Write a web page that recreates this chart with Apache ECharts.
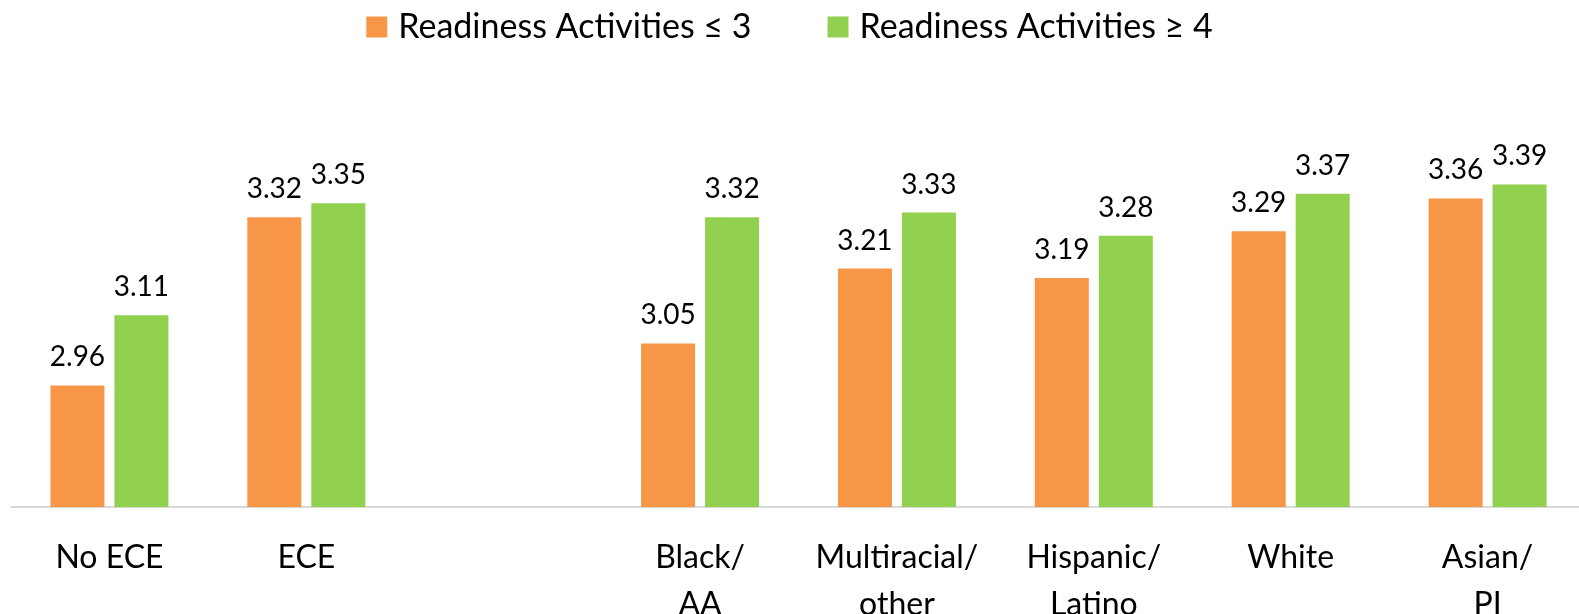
<!DOCTYPE html>
<html>
<head>
<meta charset="utf-8">
<script src="https://cdn.jsdelivr.net/npm/echarts@6/dist/echarts.min.js"></script>
<style>
  html, body { margin: 0; padding: 0; background: #ffffff; overflow: hidden; }
  #chart { width: 1579px; height: 614px; }
</style>
</head>
<body>
<div id="chart"></div>
<script>
// Groups on the x axis; the blank slot separates ECE status from race/ethnicity
const categories = ['No ECE', 'ECE', '', 'Black/\nAA', 'Multiracial/\nother', 'Hispanic/\nLatino', 'White', 'Asian/\nPI'];
const seriesNames = ['Readiness Activities \u2264 3', 'Readiness Activities \u2265 4'];
const lowActivities = [2.96, 3.32, null, 3.05, 3.21, 3.19, 3.29, 3.36];
const highActivities = [3.11, 3.35, null, 3.32, 3.33, 3.28, 3.37, 3.39];

const FONT = 'Lato';
const ORANGE = '#F79646';
const GREEN = '#92D050';

const chart = echarts.init(document.getElementById('chart'), null, { renderer: 'canvas' });

const valueLabel = {
  show: true,
  position: 'top',
  distance: 14,
  color: '#000000',
  fontFamily: FONT,
  fontSize: 28,
  formatter: p => (p.value == null ? '' : Number(p.value).toFixed(2))
};

chart.setOption({
  animation: false,
  backgroundColor: '#ffffff',
  legend: {
    top: 5,
    left: 'center',
    itemWidth: 21,
    itemHeight: 21,
    itemGap: 76,
    icon: 'rect',
    textStyle: { fontFamily: FONT, fontSize: 34, color: '#000000', padding: [0, 0, 0, 6] },
    data: seriesNames
  },
  // keep the plot box fixed; labels may run to the page edge
  grid: { left: 11, width: 1575, top: 133, height: 374, outerBoundsMode: 'none', containLabel: false },
  xAxis: {
    type: 'category',
    data: categories,
    axisLine: { show: true, lineStyle: { color: '#d9d9d9', width: 2 } },
    axisTick: { show: false },
    axisLabel: {
      interval: 0,
      margin: 27,
      color: '#000000',
      fontFamily: FONT,
      fontSize: 32,
      lineHeight: 47
    }
  },
  yAxis: {
    type: 'value',
    min: 2.7,
    max: 3.5,
    show: false,
    splitLine: { show: false }
  },
  series: [
    {
      name: seriesNames[0],
      type: 'bar',
      data: lowActivities,
      barWidth: 54,
      barGap: '18.5%',
      itemStyle: { color: ORANGE },
      label: valueLabel
    },
    {
      name: seriesNames[1],
      type: 'bar',
      data: highActivities,
      barWidth: 54,
      barGap: '18.5%',
      itemStyle: { color: GREEN },
      label: valueLabel
    }
  ]
});
</script>
</body>
</html>
